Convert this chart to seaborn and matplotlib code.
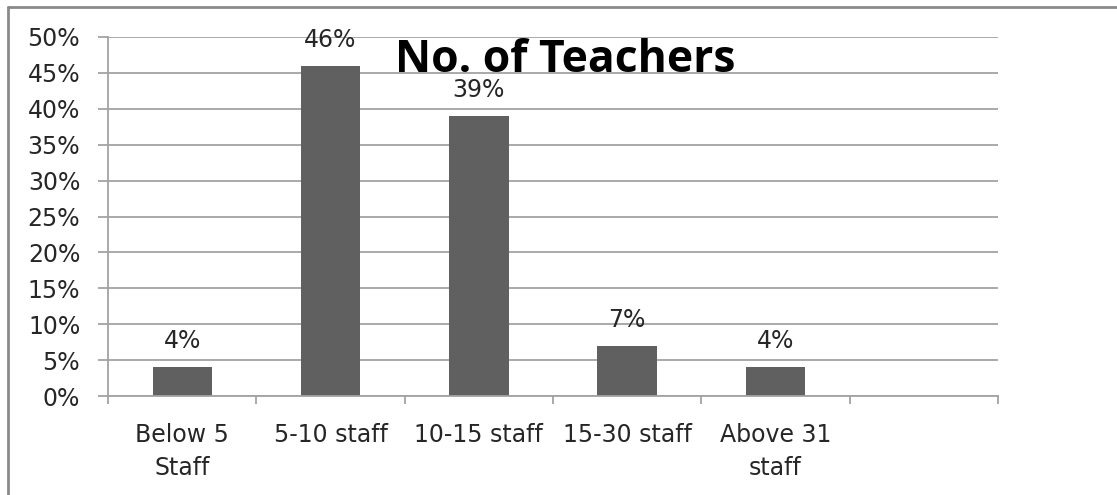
import matplotlib
matplotlib.use("Agg")
import matplotlib.pyplot as plt
import seaborn as sns
import pandas as pd
from matplotlib.lines import Line2D
from matplotlib.ticker import FixedLocator, NullFormatter

# Share of schools by teaching staff size
categories = ["Below 5\nStaff", "5-10 staff", "10-15 staff", "15-30 staff", "Above 31\nstaff"]
shares = [4, 46, 39, 7, 4]
y_ticks = [0, 5, 10, 15, 20, 25, 30, 35, 40, 45, 50]
y_tick_labels = [f"{t}%" for t in y_ticks]
title = "No. of Teachers"

sns.set_theme(style="white")
plt.rcParams["font.family"] = ["DejaVu Sans"]

GRID = "#a3a3a3"
BAR = "#606060"
TEXT = "#262626"
LABEL_SIZE = 17

fig = plt.figure(figsize=(11.17, 4.95), dpi=100)
ax = fig.add_axes([108 / 1117, 99 / 495, 890 / 1117, 359 / 495])

df = pd.DataFrame({"group": categories, "share": shares})
sns.barplot(data=df, x="group", y="share", order=categories, color=BAR,
            saturation=1, width=0.4, ax=ax, linewidth=0)

# one spare slot on the right, as in the original sheet layout
n_slots = len(categories) + 1
ax.set_xlim(-0.5, n_slots - 0.5)
ax.set_ylim(y_ticks[0], y_ticks[-1])

ax.set_yticks(y_ticks)
ax.set_yticklabels(y_tick_labels)
ax.set_xticks(range(len(categories)))
ax.set_xticklabels(categories, linespacing=1.47)
ax.xaxis.set_minor_locator(FixedLocator([i - 0.5 for i in range(n_slots + 1)]))
ax.xaxis.set_minor_formatter(NullFormatter())

ax.tick_params(axis="x", which="major", length=0, pad=19.4, labelsize=LABEL_SIZE,
               labelcolor=TEXT)
ax.tick_params(axis="x", which="minor", length=6, width=1.3, color=GRID, bottom=True)
ax.tick_params(axis="y", length=7, width=1.3, color=GRID, pad=13, labelsize=LABEL_SIZE,
               labelcolor=TEXT, left=True)

ax.set_xlabel("")
ax.set_ylabel("")
ax.yaxis.grid(True, color=GRID, linewidth=1.3)
ax.set_axisbelow(True)
for side in ("top", "right"):
    ax.spines[side].set_visible(False)
for side in ("left", "bottom"):
    ax.spines[side].set_color(GRID)
    ax.spines[side].set_linewidth(1.3)

ax.bar_label(ax.containers[0], labels=[f"{v}%" for v in shares], padding=10,
             fontsize=LABEL_SIZE, color=TEXT)

ax.text(0.5135, 0.9025, title, transform=ax.transAxes, ha="center", va="baseline",
        fontsize=32, fontweight="bold", color="black", family=["Open Sans", "DejaVu Sans"])

# chart frame (top and left edges)
top_y = 1 - 6.5 / 495
left_x = 7.5 / 1117
fig.add_artist(Line2D([left_x, 1.0], [top_y, top_y], transform=fig.transFigure,
                      color="#8a8a8a", linewidth=2))
fig.add_artist(Line2D([left_x, left_x], [0.0, top_y], transform=fig.transFigure,
                      color="#8a8a8a", linewidth=2))

fig.savefig("out.png", dpi=100, facecolor="white")
